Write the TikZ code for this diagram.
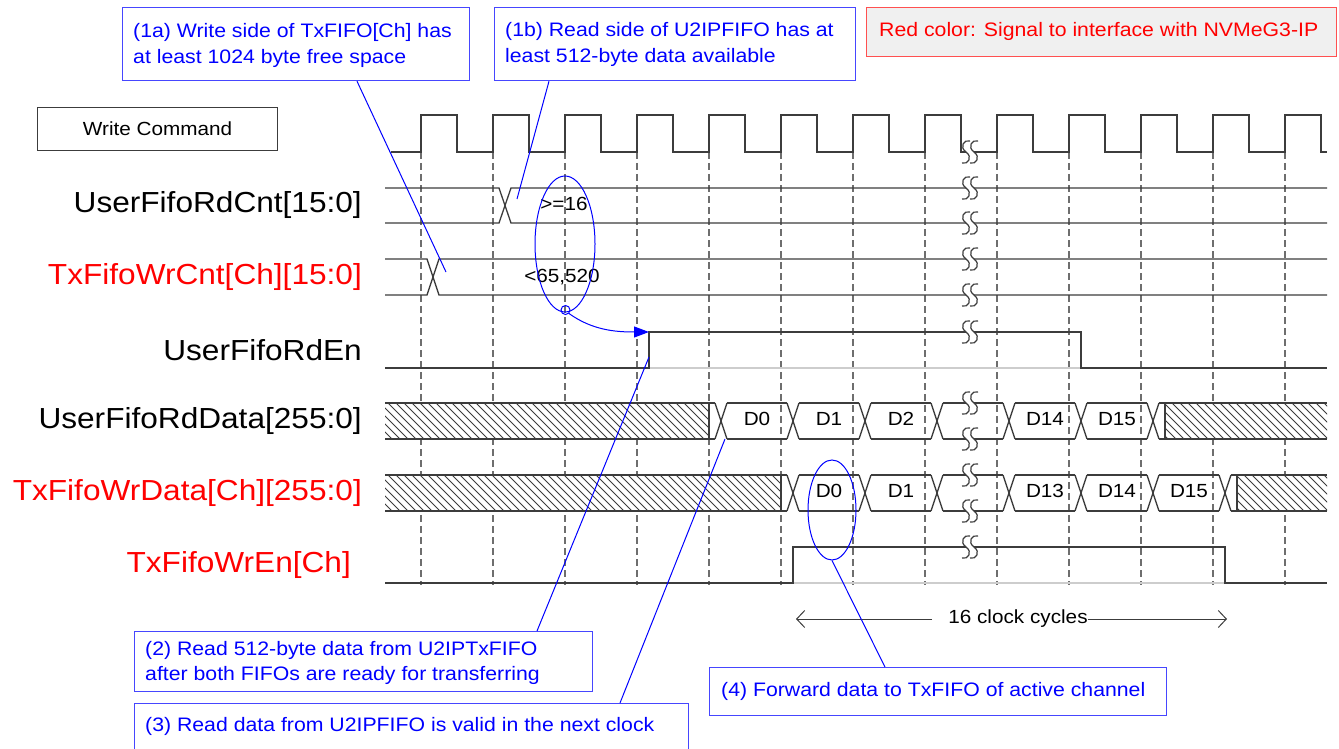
\documentclass[tikz,border=0pt]{standalone}
\usepackage{fontspec}
\setmainfont[FakeStretch=1.09]{Liberation Sans}
\usetikzlibrary{arrows.meta,shapes.geometric}
\definecolor{wline}{RGB}{60,60,60}
\definecolor{gridc}{RGB}{110,110,110}
\definecolor{cblue}{RGB}{0,0,255}
\definecolor{bblue}{RGB}{70,70,255}
\definecolor{cred}{RGB}{255,0,0}
\definecolor{rbox}{RGB}{255,80,80}
\definecolor{rfill}{RGB}{240,240,240}
\definecolor{lgray}{RGB}{205,205,205}
\newcommand\hatchbox[4]{%
  \fill[white] (#1,#3) rectangle (#2,#4);
  \begin{scope}
    \clip (#1,#3) rectangle (#2,#4);
    \foreach \k in {300,308,...,1340} \draw[hatchline] (\k,#3) -- (\k+36,#4);
  \end{scope}}
\newcommand\brksym[2]{%
  \fill[white] (#1-4,#2-2) rectangle (#1+4,#2+2);
  \foreach \o in {-4,4} {
    \draw[brkline] (#1+\o+4,#2-11) .. controls (#1+\o-2,#2-13) and (#1+\o-7,#2-5) .. (#1+\o,#2)
      .. controls (#1+\o+7,#2+5) and (#1+\o+2,#2+13) .. (#1+\o-4,#2+11);
  }}
\begin{document}
\begin{tikzpicture}[x=1pt,y=-1pt,
  wave/.style={draw=wline,line width=1.3pt},
  lgline/.style={draw=lgray,line width=1.3pt},
  brkline/.style={draw=wline,line width=1.2pt},
  hatchline/.style={draw=wline,line width=0.9pt},
  gridl/.style={draw=gridc,line width=1.1pt,dash pattern=on 7pt off 4pt},
  siglabel/.style={font=\fontsize{29}{34}\selectfont,inner sep=0pt,anchor=east},
  dlabel/.style={font=\fontsize{19}{23}\selectfont,inner sep=0pt},
  cbox/.style={draw=bblue,line width=1.2pt,anchor=north west,inner sep=0pt},
  ctext/.style={font=\fontsize{19.5}{24}\selectfont,text=cblue,inner sep=0pt,anchor=base west},
  conn/.style={draw=cblue,line width=1pt},
  cyc/.style={draw=wline,line width=1pt,-{Straight Barb[length=8pt,width=17pt]}}
]
\useasboundingbox (0,0) rectangle (1339,749);

% dashed clock grid
\foreach \r in {421,493,...,1285} \draw[gridl] (\r,152) -- (\r,585);

% clock
\draw[wave] (391,152) \foreach \r in {421,493,...,1285} { -- (\r,152) -- (\r,115) -- (\r+36,115) -- (\r+36,152) } -- (1327,152);

% UserFifoRdCnt
\draw[wave] (385,188) -- (499,188) -- (511,223) -- (1327,223);
\draw[wave] (385,223) -- (499,223) -- (511,188) -- (1327,188);

% TxFifoWrCnt
\draw[wave] (385,259) -- (427,259) -- (439,295) -- (1327,295);
\draw[wave] (385,295) -- (427,295) -- (439,259) -- (1327,259);

% UserFifoRdEn
\draw[lgline] (649,368) -- (1081,368);
\draw[wave] (385,368) -- (649,368) -- (649,332) -- (1081,332) -- (1081,368) -- (1327,368);

% UserFifoRdData
\hatchbox{385}{709}{403}{439}
\draw[wave] (385,403) -- (715,403) (385,439) -- (715,439) (709,403) -- (709,439);
\foreach \c in {721,793,865,937,1009,1081,1153}
  \draw[wave] (\c-6,403) -- (\c+6,439) (\c-6,439) -- (\c+6,403);
\foreach \a/\b in {721/793,793/865,865/937,937/1009,1009/1081,1081/1153}
  \draw[wave] (\a+6,403) -- (\b-6,403) (\a+6,439) -- (\b-6,439);
\hatchbox{1165}{1327}{403}{439}
\draw[wave] (1159,403) -- (1327,403) (1159,439) -- (1327,439) (1165,403) -- (1165,439);

% TxFifoWrData
\hatchbox{385}{781}{475}{511}
\draw[wave] (385,475) -- (787,475) (385,511) -- (787,511) (781,475) -- (781,511);
\foreach \c in {793,865,937,1009,1081,1153,1225}
  \draw[wave] (\c-6,475) -- (\c+6,511) (\c-6,511) -- (\c+6,475);
\foreach \a/\b in {793/865,865/937,937/1009,1009/1081,1081/1153,1153/1225}
  \draw[wave] (\a+6,475) -- (\b-6,475) (\a+6,511) -- (\b-6,511);
\hatchbox{1237}{1327}{475}{511}
\draw[wave] (1231,475) -- (1327,475) (1231,511) -- (1327,511) (1237,475) -- (1237,511);

% TxFifoWrEn
\draw[lgline] (793,583) -- (1225,583);
\draw[wave] (385,583) -- (793,583) -- (793,547) -- (1225,547) -- (1225,583) -- (1327,583);

% break symbols
\foreach \y in {152,188,223,259,295,332,403,439,475,511,547} { \brksym{970}{\y} }

% signal labels
\node[draw=wline,line width=1.2pt,minimum width=240pt,minimum height=43pt,anchor=north west,inner sep=0pt,
      font=\fontsize{19}{23}\selectfont] (wcmd) at (37,107) {Write Command};
\node[siglabel] (lrdcnt) at (362,205) {UserFifoRdCnt[15:0]};
\node[siglabel,text=cred] (lwrcnt) at (362,277) {TxFifoWrCnt[Ch][15:0]};
\node[siglabel] (lrden) at (362,350) {UserFifoRdEn};
\node[siglabel] (lrddata) at (362,421) {UserFifoRdData[255:0]};
\node[siglabel,text=cred] (lwrdata) at (362,493) {TxFifoWrData[Ch][255:0]};
\node[siglabel,text=cred] (lwren) at (351,565) {TxFifoWrEn[Ch]};

% values
\node[dlabel] (vcnt) at (564,204) {>=16};
\node[dlabel,anchor=base] (vwr) at (562,282) {<65,520};
\node[dlabel] (rd0) at (757,419) {D0};
\node[dlabel] (rd1) at (829,419) {D1};
\node[dlabel] (rd2) at (901,419) {D2};
\node[dlabel] (rd14) at (1045,419) {D14};
\node[dlabel] (rd15) at (1117,419) {D15};
\node[dlabel] (wd0) at (829,491) {D0};
\node[dlabel] (wd1) at (901,491) {D1};
\node[dlabel] (wd13) at (1045,491) {D13};
\node[dlabel] (wd14) at (1117,491) {D14};
\node[dlabel] (wd15) at (1189,491) {D15};

% 16 clock cycles
\node[dlabel,text=black] (cyc16) at (1018,619) {16 clock cycles};
\coordinate (cycl) at (796,619);
\coordinate (cycr) at (1227,619);
\draw[cyc] ([xshift=-16pt]cyc16.west) -- (cycl);
\draw[cyc] (cyc16.east) -- (cycr);

% callout boxes
\node[cbox,minimum width=347pt,minimum height=73pt] (c1a) at (122,7) {};
\node[ctext] (t1a1) at (133,37.3) {(1a) Write side of TxFIFO[Ch] has};
\node[ctext] (t1a2) at (133,63.3) {at least 1024 byte free space};
\node[cbox,minimum width=361pt,minimum height=73pt] (c1b) at (494,7) {};
\node[ctext] (t1b1) at (505,36.7) {(1b) Read side of U2IPFIFO has at};
\node[ctext] (t1b2) at (505,62.7) {least 512-byte data available};
\node[draw=rbox,fill=rfill,line width=1.2pt,anchor=north west,inner sep=0pt,minimum width=470pt,minimum height=49pt] (cred) at (866,7) {};
\node[ctext,text=cred] (tred) at (879,36.7) {Red color: Signal to interface with NVMeG3-IP};
\node[cbox,minimum width=458pt,minimum height=60pt] (c2) at (134,631) {};
\node[ctext] (t21) at (145,655) {(2) Read 512-byte data from U2IPTxFIFO};
\node[ctext] (t22) at (145,680) {after both FIFOs are ready for transferring};
\node[cbox,minimum width=554pt,minimum height=49pt] (c3) at (134,703) {};
\node[ctext] (t3) at (145,731.7) {(3) Read data from U2IPFIFO is valid in the next clock};
\node[cbox,minimum width=457pt,minimum height=48pt] (c4) at (709,667) {};
\node[ctext] (t4) at (721,696.7) {(4) Forward data to TxFIFO of active channel};

% ellipses and connectors
\node[ellipse,draw=cblue,line width=1pt,minimum width=60pt,minimum height=136pt,inner sep=0pt] (e1) at (565,244) {};
\node[ellipse,draw=cblue,line width=1pt,minimum width=48pt,minimum height=100pt,inner sep=0pt] (e2) at (832,510) {};
\node[circle,draw=cblue,line width=1pt,minimum size=9pt,inner sep=0pt] (sc) at (565.5,310) {};
\coordinate (wrx) at (446,272);
\coordinate (rdx) at (517,199);
\coordinate (rdenr) at (649,357);
\coordinate (rdentop) at (649,332);
\coordinate (d0x) at (725,439);
\draw[conn] ([xshift=235pt]c1a.south west) -- (wrx);
\draw[conn] ([xshift=55pt]c1b.south west) -- (rdx);
\draw[conn,-{Triangle[length=15pt,width=11pt]}] (sc.south east) .. controls (592,330) and (615,332) .. (rdentop);
\draw[conn] (rdenr) -- ([xshift=403pt]c2.north west);
\draw[conn] (d0x) -- ([xshift=486pt]c3.north west);
\draw[conn] (e2.south) -- ([xshift=176pt]c4.north west);
\end{tikzpicture}
\end{document}
